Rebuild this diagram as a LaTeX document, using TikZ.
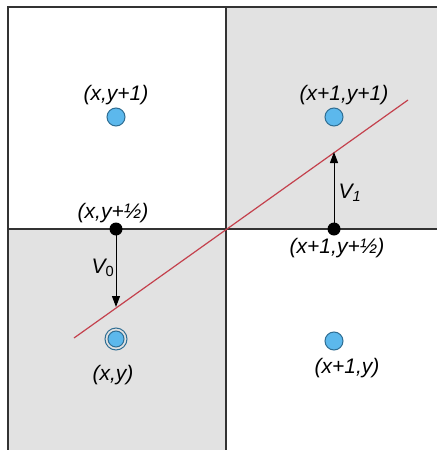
\documentclass[tikz,border=0pt]{standalone}
\usepackage{fontspec}
\setmainfont{Liberation Sans}
\usetikzlibrary{arrows.meta}
\definecolor{cellgray}{HTML}{E2E2E2}
\definecolor{framegray}{HTML}{333333}
\definecolor{dotblue}{HTML}{5CB8EC}
\definecolor{dotedge}{HTML}{2F6E93}
\definecolor{linered}{HTML}{C4414D}
\tikzset{
  pix/.style={draw=dotedge, fill=dotblue, circle, inner sep=0pt, minimum size=18pt, line width=1pt},
  sample/.style={fill=black, circle, inner sep=0pt, minimum size=13pt},
  lbl/.style={font=\fontsize{21}{21}\selectfont\itshape, inner sep=0pt},
  vec/.style={-{Triangle[length=11pt,width=8pt]}, line width=1pt, black},
}
\begin{document}
\begin{tikzpicture}[x=1pt,y=-1pt]
\useasboundingbox (0,0) rectangle (437,450);
\fill[white] (0,0) rectangle (437,450);
\fill[cellgray] (226,7) rectangle (437,229);
\fill[cellgray] (8,229) rectangle (226,450);
\draw[framegray, line width=1.4pt] (437,7) -- (8,7) -- (8,450);
\draw[framegray, line width=1.4pt] (226,7) -- (226,450);
\draw[framegray, line width=1.4pt] (8,229) -- (437,229);
% red line
\coordinate (ra) at (74,338);
\coordinate (rb) at (408,100);
\draw[linered, line width=1.2pt] (ra) -- (rb);
% pixel centers
\node[pix] (pa) at (116,117) {};
\node[pix] (pb) at (334,117) {};
\node[draw=dotedge, line width=1pt, circle, inner sep=0pt, minimum size=22pt] (pcring) at (116,339) {};
\node[pix, minimum size=16pt] (pc) at (116,339) {};
\node[pix] (pd) at (334,341) {};
% sample points
\coordinate (e0) at (116,307);
\coordinate (e1) at (334,152);
\draw[vec] (116,229) -- (e0);
\draw[vec] (334,229) -- (e1);
\node[sample] (s0) at (116,229) {};
\node[sample] (s1) at (334,229) {};
% labels
\node[lbl] (la) at (116,95) {(x,y+1)};
\node[lbl] (lb) at (344,95) {(x+1,y+1)};
\node[lbl] (lc) at (113,213) {(x,y+½)};
\node[lbl] (ld) at (337,248) {(x+1,y+½)};
\node[lbl] (le) at (113,375) {(x,y)};
\node[lbl] (lf) at (347,368) {(x+1,y)};
\node[lbl, anchor=center] (v0) at (103,268) {V\textsubscript{\upshape 0}};
\node[lbl, anchor=center] (v1) at (350,193) {V\textsubscript{1}};
\end{tikzpicture}
\end{document}
